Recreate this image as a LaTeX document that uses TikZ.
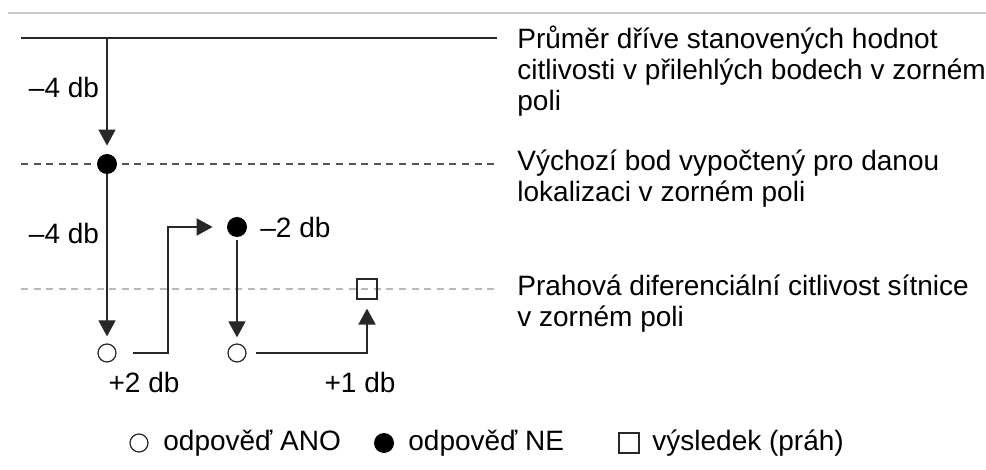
\documentclass[tikz,border=0pt]{standalone}
\usepackage{fontspec}
\setmainfont{Liberation Sans}
\usetikzlibrary{positioning,arrows.meta}
\definecolor{LineDark}{RGB}{40,40,40}
\definecolor{DashDark}{RGB}{85,85,85}
\definecolor{DashLight}{RGB}{185,185,185}
\definecolor{RuleGray}{RGB}{200,200,200}

\begin{document}
\begin{tikzpicture}[
x=0.5pt,y=-0.5pt,
every node/.style={font=\fontsize{14}{15.5}\selectfont},
lbl/.style={inner sep=0pt},
note/.style={inner sep=0pt,align=left,anchor=west},
dotno/.style={circle,fill=black,inner sep=0pt,minimum size=10pt},
dotyes/.style={circle,draw=LineDark,line width=0.6pt,fill=white,inner sep=0pt,minimum size=9pt},
result/.style={rectangle,draw=LineDark,line width=0.6pt,inner sep=0pt,minimum size=10pt},
drop/.style={-{Triangle[length=8pt,width=8.5pt]},line width=0.6pt,draw=LineDark},
step up/.style={-{Triangle[length=8pt,width=8.5pt]},line width=1pt,draw=LineDark}
]
\useasboundingbox (0,0) rectangle (986,470);

% reference lines
\draw[RuleGray,line width=0.6pt] (8,13) -- (986,13);
\draw[LineDark,line width=0.8pt] (21,38) -- (497,38);
\draw[DashDark,line width=0.7pt,dash pattern=on 3.5pt off 2.8pt] (21,164) -- (497,164);
\draw[DashLight,line width=0.7pt,dash pattern=on 3.5pt off 2.8pt] (21,289) -- (497,289);

\node[note] (avg) at (517,71) {Průměr dříve stanovených hodnot\\citlivosti v přilehlých bodech v zorném\\poli};
\node[note] (start) at (517,179) {Výchozí bod vypočtený pro danou\\lokalizaci v zorném poli};
\node[note] (thr) at (517,304) {Prahová diferenciální citlivost sítnice\\v zorném poli};

% staircase
\coordinate (top) at (107,38);
\node[dotno] (n1) at (107,164) {};
\node[dotyes] (y1) at (107,353) {};
\node[dotno] (n2) at (237,227) {};
\node[dotyes] (y2) at (237,353) {};
\node[result] (res) at (367,289) {};

\draw[drop,shorten >=4pt] (top) -- (n1);
\draw[drop,shorten <=0pt,shorten >=3.5pt] (n1) -- (y1);
\draw[drop,shorten <=1.5pt,shorten >=3pt] (n2) -- (y2);
\draw[step up,shorten <=8pt,shorten >=7pt] (y1) -- (168,353) |- (n2);
\draw[step up,shorten <=4.5pt,shorten >=4.5pt] (y2) -| (res);

\node[lbl] (d1) at (64,87) {–4 db};
\node[lbl] (d2) at (64,233) {–4 db};
\node[lbl,anchor=west] (d3) at (260,227) {–2 db};
\node[lbl] (d4) at (144,382) {+2 db};
\node[lbl] (d5) at (360,382) {+1 db};

% legend
\node[dotyes] (ky) at (139,443) {};
\node[lbl,anchor=west] (kyt) at (163,443) {odpověď ANO};
\node[dotno] (kn) at (384,443) {};
\node[lbl,anchor=west] (knt) at (408,443) {odpověď NE};
\node[result] (kr) at (629,443) {};
\node[lbl,anchor=west] (krt) at (652,443) {výsledek (práh)};
\end{tikzpicture}
\end{document}
